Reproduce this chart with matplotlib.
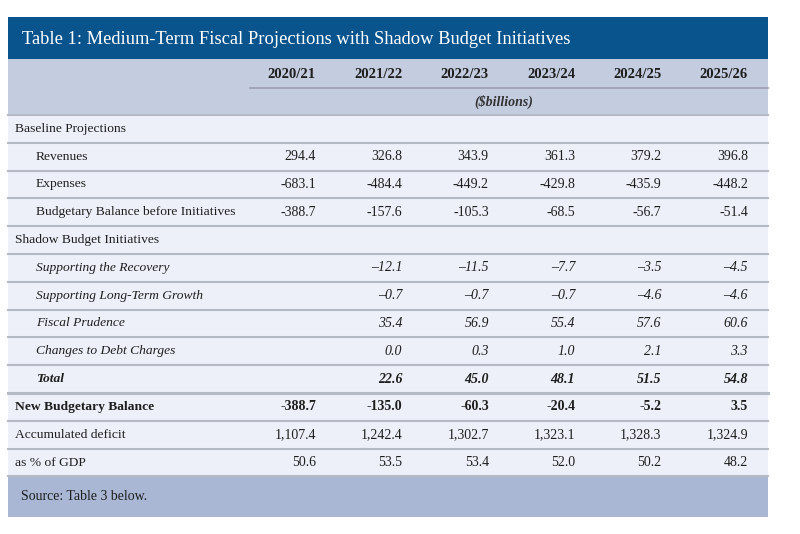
import matplotlib.pyplot as plt
from matplotlib.patches import Rectangle

# table content
title = "Table 1: Medium-Term Fiscal Projections with Shadow Budget Initiatives"
years = ["2020/21", "2021/22", "2022/23", "2023/24", "2024/25", "2025/26"]
units = "($billions)"
source = "Source: Table 3 below."

row_labels = [
    "Baseline Projections",
    "Revenues",
    "Expenses",
    "Budgetary Balance before Initiatives",
    "Shadow Budget Initiatives",
    "Supporting the Recovery",
    "Supporting Long-Term Growth",
    "Fiscal Prudence",
    "Changes to Debt Charges",
    "Total",
    "New Budgetary Balance",
    "Accumulated deficit",
    "as % of GDP",
]
row_indent = [0, 1, 1, 1, 0, 1, 1, 1, 1, 1, 0, 0, 0]
row_style = ["head", "normal", "normal", "normal", "head", "italic", "italic",
             "italic", "italic", "bolditalic", "bold", "normal", "normal"]

revenues = [294.4, 326.8, 343.9, 361.3, 379.2, 396.8]
expenses = [-683.1, -484.4, -449.2, -429.8, -435.9, -448.2]
balance_before = [-388.7, -157.6, -105.3, -68.5, -56.7, -51.4]
recovery = [None, -12.1, -11.5, -7.7, -3.5, -4.5]
long_term = [None, -0.7, -0.7, -0.7, -4.6, -4.6]
prudence = [None, 35.4, 56.9, 55.4, 57.6, 60.6]
debt_charges = [None, 0.0, 0.3, 1.0, 2.1, 3.3]
total = [None, 22.6, 45.0, 48.1, 51.5, 54.8]
new_balance = [-388.7, -135.0, -60.3, -20.4, -5.2, 3.5]
accum_deficit = [1107.4, 1242.4, 1302.7, 1323.1, 1328.3, 1324.9]
pct_gdp = [50.6, 53.5, 53.4, 52.0, 50.2, 48.2]

row_values = [None, revenues, expenses, balance_before, None, recovery, long_term,
              prudence, debt_charges, total, new_balance, accum_deficit, pct_gdp]


def fmt(v, style):
    if v is None:
        return ""
    s = f"{abs(v):,.1f}"
    if v < 0:
        s = ("\u2013" if "italic" in style else "-") + s
    return s


fig = plt.figure(figsize=(8, 5.34), dpi=100)
ax = fig.add_axes([0, 0, 1, 1])
ax.set_xlim(0, 800)
ax.set_ylim(534, 0)
ax.axis("off")

serif = "Liberation Serif"
ink = "#1e1e1e"
left, right = 8, 768
top_title, top_head, top_body = 17, 59, 115
row_h = 27.8
body_bottom = top_body + row_h * len(row_labels)
foot_bottom = body_bottom + 41
col_right = [316 + 86.4 * i for i in range(len(years))]

# backgrounds
ax.add_patch(Rectangle((left, top_title), right - left, top_head - top_title, color="#0a548e", lw=0))
ax.add_patch(Rectangle((left, top_head), right - left, top_body - top_head, color="#c4cce0", lw=0))
ax.add_patch(Rectangle((left, top_body), right - left, body_bottom - top_body, color="#edf0f8", lw=0))
ax.add_patch(Rectangle((left, body_bottom), right - left, foot_bottom - body_bottom, color="#a9b7d4", lw=0))

ax.text(22, 39, title, color="white", fontsize=13.3, family=serif, va="center", ha="left")

# header
for yr, x in zip(years, col_right):
    ax.text(x, 75, yr, fontsize=10.5, family=serif, weight="bold", color=ink, ha="right", va="center")
ax.plot([250, right], [88, 88], color="#9ea4b0", lw=1.3)
ax.text((col_right[0] - 56 + col_right[-1]) / 2, 102, units, fontsize=10, family=serif,
        style="italic", weight="bold", color="#333333", ha="center", va="center")

# rows
for i, (lab, ind, st, vals) in enumerate(zip(row_labels, row_indent, row_style, row_values)):
    yc = top_body + row_h * (i + 0.5)
    kw = dict(family=serif, color=ink, va="center")
    if "italic" in st:
        kw["style"] = "italic"
    if "bold" in st:
        kw["weight"] = "bold"
    ax.text(15 + 21 * ind, yc, lab, ha="left", fontsize=9.7, **kw)
    if vals is not None:
        for v, x in zip(vals, col_right):
            ax.text(x, yc, fmt(v, st), ha="right", fontsize=10, **kw)

# separators
for i in range(len(row_labels) + 1):
    y = top_body + row_h * i
    lw = 2.2 if i == 10 else 1.5
    ax.plot([left, right], [y, y], color="#b5b9c3", lw=lw)

ax.text(21, (body_bottom + foot_bottom) / 2, source, fontsize=10, family=serif,
        color=ink, ha="left", va="center")

fig.savefig("out.png", dpi=100, facecolor="white")
